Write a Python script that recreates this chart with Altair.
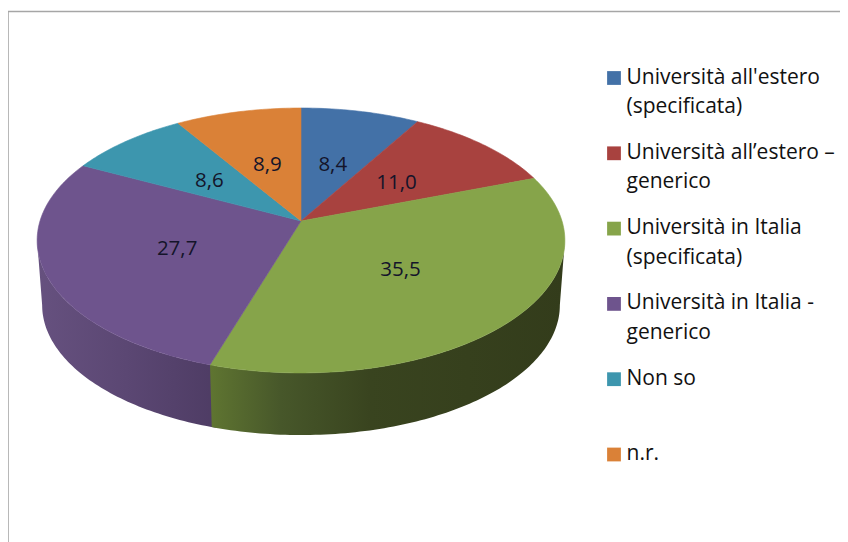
import math
import altair as alt

# ---- data
categories = ["Università all'estero (specificata)", "Università all'estero – generico",
              "Università in Italia (specificata)", "Università in Italia - generico", "Non so", "n.r."]
values = [8.4, 11.0, 35.5, 27.7, 8.6, 8.9]
value_labels = ["8,4", "11,0", "35,5", "27,7", "8,6", "8,9"]
colors = ["#4371a7", "#a8423f", "#86a44a", "#6e548d", "#3d96ae", "#da8137"]
legend_first = ["Università all'estero", "Università all’estero –", "Università in Italia",
                "Università in Italia -", "Non so", "n.r."]
legend_second = ["(specificata)", "generico", "(specificata)", "generico", "", ""]

# ---- layout: page pixel frame and a tilted-pie perspective
W, H = 832, 534
X0, Y0 = 8, 8
CX, CY = 301.0, 221.0
A, B, P = 261.0, 129.6, 0.147
DEPTH_SCALE, DEPTH_CY = 0.981, 286.0
LEG_X, LEG_TOP, LEG_STEP, LINE = 614.0, 78.0, 75.3, 29.5

total = sum(values)


def project(theta, r=1.0, scale=1.0, cy=CY):
    u, v = r * math.sin(theta), r * math.cos(theta)
    w = 1 + P * v
    return [CX + scale * A * u / w, cy - scale * B * v / w]


def arc(t0, t1, **kw):
    n = max(2, int(abs(t1 - t0) * 60))
    return [project(t0 + (t1 - t0) * i / n, **kw) for i in range(n + 1)]


cum = [0.0]
for v in values:
    cum.append(cum[-1] + v)
angles = [2 * math.pi * c / total for c in cum]

# top slices
slices = []
for name, t0, t1 in zip(categories, angles[:-1], angles[1:]):
    ring = [[CX, CY]] + arc(t0, t1) + [[CX, CY]]
    slices.append({"type": "Feature", "properties": {"name": name},
                   "geometry": {"type": "Polygon", "coordinates": [ring]}})

# side walls: from the silhouette's extreme points to the purple/green boundary
edge = math.acos(-P)
split = angles[3]


def wall(t0, t1):
    top_edge = arc(t0, t1)
    bottom_edge = arc(t1, t0, scale=DEPTH_SCALE, cy=DEPTH_CY)
    ring = top_edge + bottom_edge + [top_edge[0]]
    return {"type": "Feature", "properties": {},
            "geometry": {"type": "Polygon", "coordinates": [ring]}}


def geo(features):
    return alt.InlineData(values={"type": "FeatureCollection", "features": features},
                          format=alt.DataFormat(type="json", property="features"))


def grad(stops):
    return alt.LinearGradient(gradient="linear", x1=0, x2=1, y1=0, y2=0,
                              stops=[alt.GradientStop(color=c, offset=o) for o, c in stops])


PROJ = dict(type="identity", scale=1, translate=[-X0, -Y0])
xs = alt.Scale(domain=[X0, X0 + W], range=[0, W], nice=False, zero=False)
ys = alt.Scale(domain=[Y0, Y0 + H], range=[0, H], nice=False, zero=False)
xq = alt.X("x:Q", scale=xs, axis=None)
yq = alt.Y("y:Q", scale=ys, axis=None)
cat_scale = alt.Scale(domain=categories, range=colors)

wall_purple = alt.Chart(geo([wall(split - 0.015, 2 * math.pi - edge)])).mark_geoshape(
    fill=grad([(0, "#66517f"), (0.5, "#5b4773"), (1, "#4e3c64")]), strokeWidth=0
).project(**PROJ)
wall_green = alt.Chart(geo([wall(edge, split)])).mark_geoshape(
    fill=grad([(0, "#5f7531"), (0.2, "#47572a"), (0.45, "#39441f"), (1, "#333c1b")]),
    strokeWidth=0
).project(**PROJ)
top = alt.Chart(geo(slices)).mark_geoshape(strokeWidth=0.6).encode(
    fill=alt.Fill("properties.name:N", scale=cat_scale, legend=None),
    stroke=alt.Stroke("properties.name:N", scale=cat_scale, legend=None),
).project(**PROJ)

# frame
frame = alt.Chart(alt.Data(values=[
    {"x": X0, "x2": X0 + W, "y": 11.5, "y2": 11.5},
    {"x": X0, "x2": X0, "y": 11.5, "y2": Y0 + H},
])).mark_rule(color="#a6a6a6", strokeWidth=1.6).encode(
    x=xq, y=yq, x2="x2:Q", y2="y2:Q")

# value labels
rows = []
for lab, t0, t1 in zip(value_labels, angles[:-1], angles[1:]):
    x, y = project((t0 + t1) / 2, r=0.5)
    rows.append({"x": x, "y": y + 2, "label": lab})
val_text = alt.Chart(alt.Data(values=rows)).mark_text(
    font="Open Sans", fontSize=20.5, color="#14142a", align="center", baseline="middle"
).encode(x=xq, y=yq, text="label:N")

# legend
swatches, lines = [], []
for i, (name, a, b) in enumerate(zip(categories, legend_first, legend_second)):
    y = LEG_TOP + i * LEG_STEP
    swatches.append({"x": LEG_X, "y": y, "name": name})
    lines.append({"x": LEG_X + 12.5, "y": y - 0.5, "label": a})
    if b:
        lines.append({"x": LEG_X + 12.5, "y": y - 0.5 + LINE, "label": b})
leg_sq = alt.Chart(alt.Data(values=swatches)).mark_square(size=190, opacity=1).encode(
    x=xq, y=yq, fill=alt.Fill("name:N", scale=cat_scale, legend=None))
leg_text = alt.Chart(alt.Data(values=lines)).mark_text(
    font="Open Sans", fontSize=21, color="#111111", align="left", baseline="middle"
).encode(x=xq, y=yq, text="label:N")

chart = alt.layer(frame, wall_purple, wall_green, top, val_text, leg_sq, leg_text).properties(
    width=W, height=H, padding=0, autosize=alt.AutoSizeParams(type="none"), background="white"
).configure_view(stroke=None)

chart.save("out.html", embed_options={"renderer": "svg", "actions": False})
